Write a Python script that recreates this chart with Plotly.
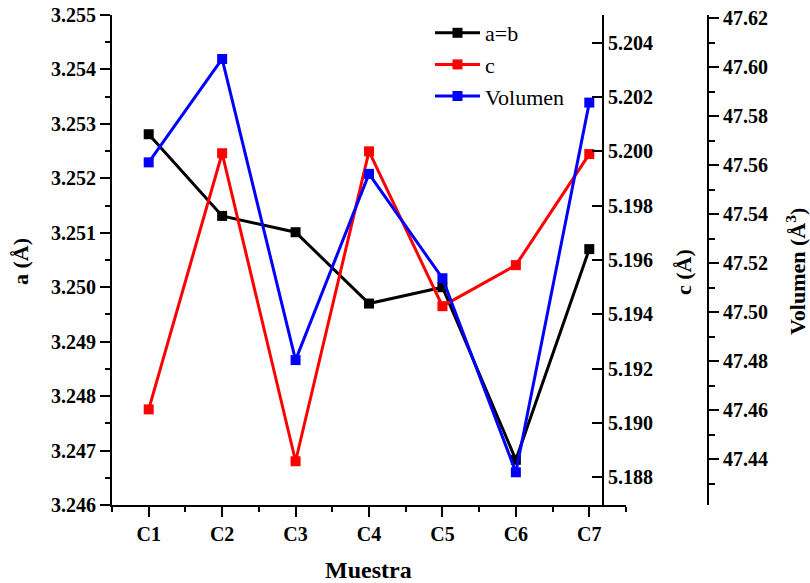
import plotly.graph_objects as go

# ---- data ----
muestras = ["C1", "C2", "C3", "C4", "C5", "C6", "C7"]
a_vals = [3.25281, 3.25131, 3.25101, 3.24970, 3.25000, 3.24683, 3.25070]
c_vals = [5.19050, 5.19993, 5.18859, 5.20000, 5.19430, 5.19581, 5.19990]
vol_vals = [47.5612, 47.6034, 47.4805, 47.5565, 47.5139, 47.4347, 47.5856]

a_ticks = [3.246, 3.247, 3.248, 3.249, 3.250, 3.251, 3.252, 3.253, 3.254, 3.255]
c_ticks = [5.188, 5.190, 5.192, 5.194, 5.196, 5.198, 5.200, 5.202, 5.204]
v_ticks = [47.42, 47.44, 47.46, 47.48, 47.50, 47.52, 47.54, 47.56, 47.58, 47.60, 47.62]

FONT = "Liberation Serif"
W, H = 810, 583
ML, MR, MT = 4, 4, 15
MB = H - 505
PW = W - ML - MR
PH = H - MT - MB


def px_x(px):
    return (px - ML) / PW


def px_y(py):
    return (H - MB - py) / PH


xpos = list(range(1, len(muestras) + 1))

fig = go.Figure()
fig.add_trace(go.Scatter(x=xpos, y=a_vals, name="a=b", mode="lines+markers",
                         line=dict(color="black", width=3),
                         marker=dict(symbol="square", size=10, color="black"),
                         yaxis="y"))
fig.add_trace(go.Scatter(x=xpos, y=c_vals, name="c", mode="lines+markers",
                         line=dict(color="#ff0000", width=3),
                         marker=dict(symbol="square", size=10, color="#ff0000"),
                         yaxis="y2"))
fig.add_trace(go.Scatter(x=xpos, y=vol_vals, name="Volumen", mode="lines+markers",
                         line=dict(color="#0000ff", width=3),
                         marker=dict(symbol="square", size=10, color="#0000ff"),
                         yaxis="y3"))

tickfont = dict(family=FONT, size=20, color="black", weight="bold")

fig.update_layout(
    width=W, height=H,
    margin=dict(l=ML, r=MR, t=MT, b=MB),
    paper_bgcolor="white", plot_bgcolor="white",
    font=dict(family=FONT, color="black"),
    showlegend=True,
    legend=dict(x=px_x(430), y=px_y(12), xanchor="left", yanchor="top",
                itemwidth=45,
                font=dict(family=FONT, size=22, color="black"),
                bgcolor="rgba(0,0,0,0)", tracegroupgap=0),
    xaxis=dict(domain=[px_x(112), px_x(626)], range=[0.5, 7.5],
               tickmode="array", tickvals=xpos, ticktext=muestras,
               ticks="outside", ticklen=10, tickwidth=2, tickcolor="black",
               minor=dict(tickvals=[0.5, 1.5, 2.5, 3.5, 4.5, 5.5, 6.5, 7.5],
                          ticks="outside", ticklen=5, tickwidth=2, tickcolor="black"),
               showline=True, linewidth=2, linecolor="black",
               showgrid=False, zeroline=False, tickfont=tickfont, automargin=False),
    yaxis=dict(range=[3.246, 3.255], tickmode="array", tickvals=a_ticks,
               tickformat=".3f", ticks="outside", ticklen=10, tickwidth=2,
               tickcolor="black",
               minor=dict(dtick=0.0005, tick0=3.246, ticks="outside", ticklen=5,
                          tickwidth=2, tickcolor="black"),
               showline=True, linewidth=2, linecolor="black",
               showgrid=False, zeroline=False, tickfont=tickfont, automargin=False),
    yaxis2=dict(overlaying="y", anchor="free", position=px_x(603), side="right",
                range=[5.18698, 5.20502], tickmode="array", tickvals=c_ticks,
                tickformat=".3f", ticks="inside", ticklen=10, tickwidth=2,
                tickcolor="black",
                showline=True, linewidth=2, linecolor="black",
                showgrid=False, zeroline=False, tickfont=tickfont, automargin=False),
    yaxis3=dict(overlaying="y", anchor="free", position=px_x(708), side="right",
                range=[47.42135, 47.62135], tickmode="array", tickvals=v_ticks,
                tickformat=".2f", ticks="outside", ticklen=10, tickwidth=2,
                tickcolor="black",
                minor=dict(dtick=0.01, tick0=47.42, ticks="outside", ticklen=6,
                           tickwidth=2, tickcolor="black"),
                showline=True, linewidth=2, linecolor="black",
                showgrid=False, zeroline=False, tickfont=tickfont, automargin=False),
)

title_font = dict(family=FONT, size=22, color="black", weight="bold")
common = dict(xref="paper", yref="paper", showarrow=False,
              xanchor="center", yanchor="middle")
fig.add_annotation(text="a (Å)", x=px_x(20), y=px_y(262), textangle=-90,
                   font=title_font, **common)
fig.add_annotation(text="c (Å)", x=px_x(683), y=px_y(272), textangle=-90,
                   font=title_font, **common)
fig.add_annotation(text="Volumen (Å<sup>3</sup>)", x=px_x(796), y=px_y(272),
                   textangle=-90, font=title_font, **common)
fig.add_annotation(text="Muestra", x=px_x(368), y=px_y(570),
                   font=dict(family=FONT, size=24, color="black", weight="bold"),
                   **common)

fig.write_html(
    "out.html",
    config={"displayModeBar": False},
    post_script="document.body.style.margin='0px';"
                "document.body.style.overflow='hidden';",
)
